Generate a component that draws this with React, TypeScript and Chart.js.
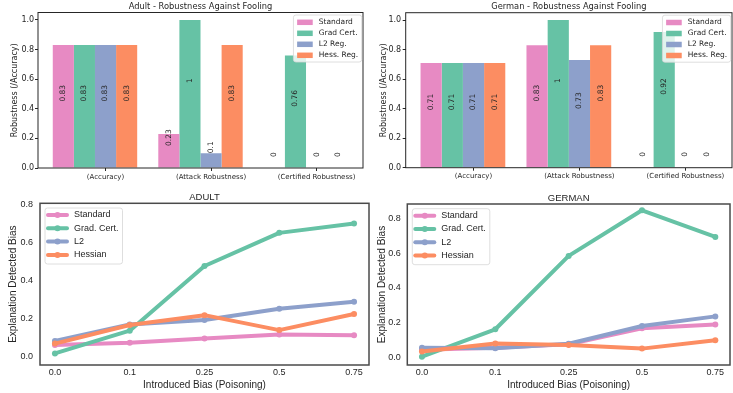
import React, { useEffect, useRef } from "react";
import { Chart, registerables } from "chart.js";
Chart.register(...registerables);

// ---------- data ----------
const barCategories = ["(Accuracy)", "(Attack Robustness)", "(Certified Robustness)"];
const barSeriesNames = ["Standard", "Grad Cert.", "L2 Reg.", "Hess. Reg."];
const adultBarStandard = [0.83, 0.23, 0];
const adultBarGradCert = [0.83, 1, 0.76];
const adultBarL2 = [0.83, 0.1, 0];
const adultBarHess = [0.83, 0.83, 0];
const germanBarStandard = [0.71, 0.83, 0];
const germanBarGradCert = [0.71, 1, 0.92];
const germanBarL2 = [0.71, 0.73, 0];
const germanBarHess = [0.71, 0.83, 0];
const barYTicks = [0, 0.2, 0.4, 0.6, 0.8, 1.0];

const biasLevels = ["0.0", "0.1", "0.25", "0.5", "0.75"];
const lineSeriesNames = ["Standard", "Grad. Cert.", "L2", "Hessian"];
const adultLineStandard = [0.058, 0.07, 0.093, 0.114, 0.11];
const adultLineGradCert = [0.014, 0.134, 0.475, 0.65, 0.7];
const adultLineL2 = [0.08, 0.167, 0.19, 0.25, 0.287];
const adultLineHessian = [0.066, 0.164, 0.216, 0.137, 0.222];
const germanLineStandard = [0.045, 0.057, 0.077, 0.169, 0.19];
const germanLineGradCert = [0.006, 0.163, 0.584, 0.846, 0.693];
const germanLineL2 = [0.057, 0.054, 0.08, 0.182, 0.237];
const germanLineHessian = [0.036, 0.082, 0.073, 0.052, 0.1];
const lineYTicks = [0, 0.2, 0.4, 0.6, 0.8];

const colors = ["#e78ac3", "#66c2a5", "#8da0cb", "#fc8d62"];

// ---------- styles ----------
const FONT_TOP = "'DejaVu Sans', sans-serif";
const FONT_BOTTOM = "'Liberation Sans', Arial, sans-serif";
const TEXT = "#262626";

type Geo = { w: number; h: number; l: number; t: number; r: number; b: number };

interface LegendCfg {
  kind: "rect" | "line";
  side: "left" | "right";
  offX: number;
  offY: number;
  font: string;
  fontSize: number;
  rowH: number;
  firstRow: number;
  padL: number;
  padR: number;
  handleW: number;
  handleH: number;
  gap: number;
  boxH: number;
}

interface DecorCfg {
  title: string;
  titleFont: string;
  titleSize: number;
  titleOff: number;
  frameColor: string;
  frameWidth: number;
  legend: LegendCfg;
  names: string[];
  barLabels: boolean;
}

function makeDecor(cfg: DecorCfg) {
  return {
    id: "decor",
    afterDatasetsDraw(chart: any) {
      const { ctx, chartArea: a } = chart;
      ctx.save();
      if (cfg.barLabels) {
        const ys = chart.scales.y;
        ctx.fillStyle = TEXT;
        ctx.font = `7.5px ${FONT_TOP}`;
        ctx.textAlign = "center";
        ctx.textBaseline = "middle";
        chart.data.datasets.forEach((ds: any, di: number) => {
          const meta = chart.getDatasetMeta(di);
          meta.data.forEach((el: any, i: number) => {
            const v = ds.data[i].y;
            const py = ys.getPixelForValue(v / 2 + 0.09);
            ctx.save();
            ctx.translate(el.x, py);
            ctx.rotate(-Math.PI / 2);
            ctx.fillText(String(v), 0, 0);
            ctx.restore();
          });
        });
      }
      ctx.strokeStyle = cfg.frameColor;
      ctx.lineWidth = cfg.frameWidth;
      ctx.strokeRect(a.left, a.top, a.right - a.left, a.bottom - a.top);
      ctx.restore();
    },
    afterDraw(chart: any) {
      const { ctx, chartArea: a } = chart;
      ctx.save();
      // title
      ctx.fillStyle = TEXT;
      ctx.font = `${cfg.titleSize}px ${cfg.titleFont}`;
      ctx.textAlign = "center";
      ctx.textBaseline = "middle";
      ctx.fillText(cfg.title, (a.left + a.right) / 2, a.top - cfg.titleOff);
      // legend
      const L = cfg.legend;
      ctx.font = `${L.fontSize}px ${L.font}`;
      const maxW = Math.max(...cfg.names.map((n) => ctx.measureText(n).width));
      const boxW = L.padL + L.handleW + L.gap + maxW + L.padR;
      const bx = L.side === "right" ? a.right - L.offX - boxW : a.left + L.offX;
      const by = a.top + L.offY;
      ctx.beginPath();
      (ctx as any).roundRect(bx, by, boxW, L.boxH, 2.5);
      ctx.fillStyle = "rgba(255,255,255,0.8)";
      ctx.fill();
      ctx.strokeStyle = "#d6d6d6";
      ctx.lineWidth = 0.8;
      ctx.stroke();
      cfg.names.forEach((n, i) => {
        const cy = by + L.firstRow + i * L.rowH;
        const hx = bx + L.padL;
        const col = chart.data.datasets[i].backgroundColor;
        if (L.kind === "rect") {
          ctx.fillStyle = col;
          ctx.fillRect(hx, cy - L.handleH / 2, L.handleW, L.handleH);
        } else {
          ctx.strokeStyle = col;
          ctx.lineWidth = 4;
          ctx.lineCap = "round";
          ctx.beginPath();
          ctx.moveTo(hx + 1, cy);
          ctx.lineTo(hx + L.handleW - 1, cy);
          ctx.stroke();
          ctx.fillStyle = col;
          ctx.beginPath();
          ctx.arc(hx + L.handleW / 2, cy, 3, 0, Math.PI * 2);
          ctx.fill();
        }
        ctx.fillStyle = TEXT;
        ctx.textAlign = "left";
        ctx.textBaseline = "middle";
        ctx.fillText(n, hx + L.handleW + L.gap, cy);
      });
      ctx.restore();
    },
  };
}

const topLegend: LegendCfg = {
  kind: "rect",
  side: "right",
  offX: 1.3,
  offY: 2.5,
  font: FONT_TOP,
  fontSize: 7.5,
  rowH: 11,
  firstRow: 7.3,
  padL: 3.7,
  padR: 3.5,
  handleW: 15.6,
  handleH: 5.5,
  gap: 6,
  boxH: 47,
};

const bottomLegend: LegendCfg = {
  kind: "line",
  side: "left",
  offX: 5,
  offY: 4.7,
  font: FONT_BOTTOM,
  fontSize: 9,
  rowH: 13.3,
  firstRow: 7,
  padL: 2,
  padR: 4,
  handleW: 21,
  handleH: 4,
  gap: 6,
  boxH: 56,
};

function barConfig(title: string, series: number[][], g: Geo, yTitlePad: number, yTickPad: number): any {
  const xAxisH = 20;
  return {
    type: "bar",
    data: {
      datasets: series.map((vals, si) => ({
        label: barSeriesNames[si],
        data: vals.map((v, i) => ({ x: i, y: v })),
        backgroundColor: colors[si],
        borderWidth: 0,
        categoryPercentage: 0.8,
        barPercentage: 1.0,
      })),
    },
    options: {
      animation: false,
      responsive: false,
      layout: { padding: { left: 0, top: g.t, right: g.w - g.r, bottom: g.h - g.b - xAxisH } },
      plugins: { legend: { display: false }, tooltip: { enabled: false }, title: { display: false } },
      scales: {
        x: {
          type: "linear",
          min: -0.54,
          max: 2.54,
          offset: false,
          afterBuildTicks: (s: any) => {
            s.ticks = barCategories.map((_, i) => ({ value: i + 0.1 }));
          },
          afterFit: (s: any) => {
            s.height = xAxisH;
          },
          ticks: {
            autoSkip: false,
            maxRotation: 0,
            padding: 1.5,
            color: TEXT,
            font: { family: FONT_TOP, size: 7 },
            callback: (_v: any, i: number) => barCategories[i],
          },
          grid: { display: true, offset: false, drawOnChartArea: false, drawTicks: true, tickLength: 3, color: TEXT, lineWidth: 1 },
          border: { display: false },
        },
        y: {
          type: "linear",
          min: 0,
          max: 1.05,
          afterBuildTicks: (s: any) => {
            s.ticks = barYTicks.map((v) => ({ value: v }));
          },
          afterFit: (s: any) => {
            s.width = g.l;
          },
          ticks: {
            autoSkip: false,
            padding: yTickPad,
            color: TEXT,
            font: { family: FONT_TOP, size: 8 },
            callback: (v: any) => Number(v).toFixed(1),
          },
          grid: { display: true, drawOnChartArea: false, drawTicks: true, tickLength: 3, color: TEXT, lineWidth: 1 },
          border: { display: false },
          title: {
            display: true,
            text: "Robustness (/Accuracy)",
            color: TEXT,
            font: { family: FONT_TOP, size: 8 },
            padding: { top: yTitlePad, bottom: 0 },
          },
        },
      },
    },
    plugins: [
      makeDecor({
        title,
        titleFont: FONT_TOP,
        titleSize: 8.3,
        titleOff: 5.5,
        frameColor: TEXT,
        frameWidth: 1,
        legend: topLegend,
        names: barSeriesNames,
        barLabels: true,
      }),
    ],
  };
}

function lineConfig(
  title: string,
  series: number[][],
  g: Geo,
  yMin: number,
  yMax: number,
  yTitlePad: number,
  yTickPad: number
): any {
  const xAxisH = 28;
  return {
    type: "line",
    data: {
      datasets: series.map((vals, si) => ({
        label: lineSeriesNames[si],
        data: vals.map((v, i) => ({ x: i, y: v })),
        borderColor: colors[si],
        backgroundColor: colors[si],
        pointBackgroundColor: colors[si],
        pointBorderWidth: 0,
        pointRadius: 3,
        pointHoverRadius: 3,
        borderWidth: 4,
        borderCapStyle: "round",
        borderJoinStyle: "round",
        tension: 0,
        fill: false,
        order: series.length - si,
      })),
    },
    options: {
      animation: false,
      responsive: false,
      layout: { padding: { left: 0, top: g.t, right: g.w - g.r, bottom: g.h - g.b - xAxisH } },
      plugins: { legend: { display: false }, tooltip: { enabled: false }, title: { display: false } },
      scales: {
        x: {
          type: "linear",
          min: -0.2,
          max: 4.2,
          afterBuildTicks: (s: any) => {
            s.ticks = biasLevels.map((_, i) => ({ value: i }));
          },
          afterFit: (s: any) => {
            s.height = xAxisH;
          },
          ticks: {
            autoSkip: false,
            maxRotation: 0,
            padding: 2.3,
            color: TEXT,
            font: { family: FONT_BOTTOM, size: 9 },
            callback: (_v: any, i: number) => biasLevels[i],
          },
          grid: { display: false, drawTicks: false },
          border: { display: false },
          title: {
            display: true,
            text: "Introduced Bias (Poisoning)",
            color: TEXT,
            font: { family: FONT_BOTTOM, size: 10 },
            padding: { top: 0, bottom: 2 },
          },
        },
        y: {
          type: "linear",
          min: yMin,
          max: yMax,
          afterBuildTicks: (s: any) => {
            s.ticks = lineYTicks.map((v) => ({ value: v }));
          },
          afterFit: (s: any) => {
            s.width = g.l;
          },
          ticks: {
            autoSkip: false,
            padding: yTickPad,
            color: TEXT,
            font: { family: FONT_BOTTOM, size: 9 },
            callback: (v: any) => Number(v).toFixed(1),
          },
          grid: { display: false, drawTicks: false },
          border: { display: false },
          title: {
            display: true,
            text: "Explanation Detected Bias",
            color: TEXT,
            font: { family: FONT_BOTTOM, size: 10 },
            padding: { top: yTitlePad, bottom: 0 },
          },
        },
      },
    },
    plugins: [
      makeDecor({
        title,
        titleFont: FONT_BOTTOM,
        titleSize: 9.5,
        titleOff: 6,
        frameColor: "#4a4a4a",
        frameWidth: 1.5,
        legend: bottomLegend,
        names: lineSeriesNames,
        barLabels: false,
      }),
    ],
  };
}

function ChartBox(props: { left: number; top: number; width: number; height: number; make: () => any }) {
  const ref = useRef<HTMLCanvasElement>(null);
  useEffect(() => {
    const chart = new Chart(ref.current as HTMLCanvasElement, props.make());
    return () => chart.destroy();
  }, []);
  return (
    <div style={{ position: "absolute", left: props.left, top: props.top, width: props.width, height: props.height }}>
      <canvas
        ref={ref}
        width={props.width}
        height={props.height}
        style={{ width: props.width, height: props.height, display: "block" }}
      />
    </div>
  );
}

const geoTL: Geo = { w: 366, h: 190, l: 38, t: 12.5, r: 363, b: 168 };
const geoTR: Geo = { w: 367, h: 190, l: 39.7, t: 12.7, r: 366, b: 167.7 };
const geoBL: Geo = { w: 372, h: 203, l: 40, t: 13.3, r: 369, b: 175 };
const geoBR: Geo = { w: 361, h: 203, l: 35.3, t: 14, r: 360.3, b: 175 };

export default function App() {
  return (
    <div style={{ position: "fixed", left: 0, top: 0, width: 733, height: 393, background: "#fff", overflow: "hidden" }}>
      <ChartBox
        left={0}
        top={0}
        width={geoTL.w}
        height={geoTL.h}
        make={() =>
          barConfig(
            "Adult - Robustness Against Fooling",
            [adultBarStandard, adultBarGradCert, adultBarL2, adultBarHess],
            geoTL,
            10.2,
            0.8
          )
        }
      />
      <ChartBox
        left={366}
        top={0}
        width={geoTR.w}
        height={geoTR.h}
        make={() =>
          barConfig(
            "German - Robustness Against Fooling",
            [germanBarStandard, germanBarGradCert, germanBarL2, germanBarHess],
            geoTR,
            13.2,
            1.5
          )
        }
      />
      <ChartBox
        left={0}
        top={190}
        width={geoBL.w}
        height={geoBL.h}
        make={() =>
          lineConfig(
            "ADULT",
            [adultLineStandard, adultLineGradCert, adultLineL2, adultLineHessian],
            geoBL,
            -0.047,
            0.806,
            7.3,
            7
          )
        }
      />
      <ChartBox
        left={372}
        top={190}
        width={geoBR.w}
        height={geoBR.h}
        make={() =>
          lineConfig(
            "GERMAN",
            [germanLineStandard, germanLineGradCert, germanLineL2, germanLineHessian],
            geoBR,
            -0.042,
            0.882,
            4,
            6.6
          )
        }
      />
    </div>
  );
}
